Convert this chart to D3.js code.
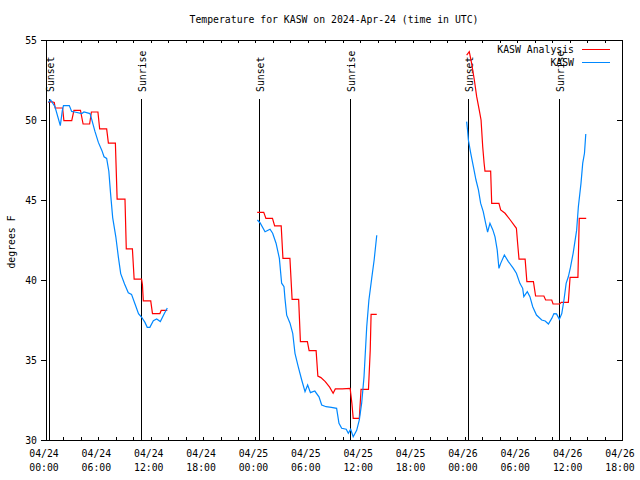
<!DOCTYPE html>
<html><head><meta charset="utf-8">
<script src="https://cdn.jsdelivr.net/npm/d3@7"></script>
<style>
body{margin:0;background:#fff}
svg text{font-family:"DejaVu Sans Mono","Liberation Mono",monospace;font-size:9.8px;fill:#000}
</style>
</head><body>
<svg id="chart" width="640" height="480"></svg>
<script>
// ---- data (hours since 2024-04-24 00:00 UTC, temperature in deg F) ----
const titleText = "Temperature for KASW on 2024-Apr-24 (time in UTC)";
const yLabel = "degrees F";
const seriesNames = ["KASW Analysis", "KASW"];
const yTicks = [30, 35, 40, 45, 50, 55];

const sunsetHours = [0.31, 24.44, 48.4];
const sunriseHours = [10.92, 34.87, 58.8];

// Observations (KASW)
const obsHours1 = [0.27,0.53,1.03,1.64,1.87,2.0,2.67,2.94,3.3,4.1,4.35,5.04,5.23,5.6,6.0,6.4,6.65,6.95,7.2,7.4,7.64,8.0,8.3,8.56,9.0,9.43,9.8,10.2,10.6,10.96,11.34,11.6,11.9,12.3,12.68,13.1,13.56,13.9];
const obsTemps1 = [51.1,51.25,50.83,49.65,50.58,50.9,50.9,50.54,50.5,50.4,50.5,50.4,50.06,49.3,48.6,48.1,47.7,47.6,46.8,45.4,43.9,42.7,41.4,40.4,39.75,39.2,39.1,38.5,37.9,37.67,37.35,37.04,37.04,37.46,37.56,37.4,37.9,38.25];
const obsHours2 = [24.22,24.52,25.1,25.67,25.97,26.36,26.74,27.0,27.27,27.38,27.58,27.96,28.27,28.53,28.9,29.3,29.68,29.98,30.3,30.8,31.28,31.59,32.1,32.7,33.3,33.57,33.88,34.4,34.64,34.91,35.2,35.6,35.9,36.17,36.44,36.75,37.0,37.32,37.6,37.9];
const obsTemps2 = [43.75,43.58,43.02,43.17,42.92,42.3,41.35,39.8,39.58,38.85,37.8,37.3,36.67,35.42,34.58,33.75,33.02,33.44,32.96,33.06,32.7,32.19,32.08,32.04,31.98,31.04,30.73,30.67,30.42,30.67,30.2,30.6,31.25,32.3,33.96,37.08,38.75,40.1,41.25,42.8];
const obsHours3 = [48.2,48.3,48.4,48.67,48.97,49.27,49.55,49.8,50.1,50.38,50.6,50.87,51.2,51.45,51.7,51.9,52.1,52.52,52.98,53.55,53.9,54.3,54.62,54.75,55.15,55.45,55.77,56.2,56.8,57.2,57.57,57.95,58.2,58.5,58.82,59.1,59.35,59.6,59.85,60.1,60.4,60.8,61.0,61.3,61.5,61.7,61.85];
const obsTemps3 = [49.9,49.38,48.75,47.92,47.08,46.25,45.63,44.8,44.27,43.54,43.0,43.54,43.13,42.7,41.88,40.73,41.04,41.56,41.15,40.73,40.42,39.79,39.48,38.96,39.27,38.96,38.33,37.81,37.5,37.44,37.25,37.6,37.9,37.88,37.54,37.9,38.75,39.79,40.2,40.8,41.67,43.1,44.58,46.04,47.3,47.92,49.12];

// Analysis (KASW Analysis)
const anaHours1 = [0.25,0.6,0.95,1.05,1.9,2.05,2.95,3.2,3.95,4.25,5.0,5.2,5.95,6.15,6.95,7.15,7.95,8.15,9.05,9.2,9.9,10.1,10.95,11.05,11.15,12.0,12.2,13.05,13.2,13.9];
const anaTemps1 = [51.1,51.15,51.1,50.75,50.75,49.96,49.96,50.6,50.6,49.75,49.75,50.5,50.5,49.44,49.44,48.56,48.56,45.06,45.06,41.94,41.94,40.06,40.06,39.7,38.7,38.7,37.9,37.9,38.1,38.1];
const anaHours2 = [24.2,24.95,25.2,25.95,26.2,26.95,27.15,27.95,28.2,28.95,29.15,29.95,30.15,30.95,31.15,31.5,32.0,32.5,32.9,33.15,33.95,34.85,35.05,35.2,35.9,36.1,36.95,37.15,37.25,37.9];
const anaTemps2 = [44.23,44.23,43.85,43.85,43.38,43.38,41.35,41.35,38.79,38.79,36.15,36.15,35.58,35.58,34.0,33.9,33.65,33.3,32.92,33.19,33.19,33.23,32.3,31.35,31.35,33.17,33.17,35.6,37.85,37.85];
const anaHours3 = [48.2,48.5,48.77,49.08,49.35,49.65,49.85,50.04,50.2,50.3,50.95,51.07,51.9,52.1,52.6,53.2,53.9,54.04,54.2,54.9,55.1,55.85,56.1,57.05,57.25,57.95,58.1,58.85,59.05,59.85,60.05,60.95,61.1,61.9];
const anaTemps3 = [54.06,54.27,53.54,52.5,51.46,50.6,50.0,48.33,47.3,46.8,46.8,44.79,44.79,44.38,44.17,43.75,43.23,42.3,41.3,41.3,39.9,39.9,39.0,39.0,38.75,38.75,38.5,38.5,38.6,38.6,40.17,40.17,43.85,43.85];

// ---- drawing ----
const svg = d3.select("#chart");
const t0 = Date.UTC(2024, 3, 24, 0, 0);
const toDate = h => new Date(t0 + h * 3600e3);
const L = 46, R = 622, T = 40, B = 440;
const x = d3.scaleUtc().domain([toDate(0), toDate(66)]).range([L, R]);
const y = d3.scaleLinear().domain([30, 55]).range([B, T]);
const red = "#ff0000", blue = "#0088ff";

// title
svg.append("text").attr("x", 334).attr("y", 23).attr("text-anchor", "middle").text(titleText);
// y label
svg.append("text").attr("transform", "translate(15,242) rotate(-90)").attr("text-anchor", "middle").text(yLabel);

const g = svg.append("g");
const crisp = sel => sel.attr("shape-rendering", "crispEdges");

// ticks every 2 h (bottom & top inward)
const tickDates = d3.utcHour.every(2).range(toDate(0), toDate(66.01));
const bottomAx = d3.axisBottom(x).tickValues(tickDates).tickSizeInner(-3).tickSizeOuter(0).tickFormat("");
const topAx = d3.axisTop(x).tickValues(tickDates).tickSizeInner(-3).tickSizeOuter(0).tickFormat("");
const gb = g.append("g").attr("transform", `translate(0,${B})`).call(bottomAx);
const gt = g.append("g").attr("transform", `translate(0,${T})`).call(topAx);
[gb, gt].forEach(a => { a.select(".domain").remove(); a.selectAll("line").attr("stroke", "#000").call(crisp); });

// y axis ticks left (out) and right (in)
const leftAx = d3.axisLeft(y).tickValues(yTicks).tickSizeInner(5).tickSizeOuter(0).tickPadding(4).tickFormat(d3.format("d"));
const rightAx = d3.axisRight(y).tickValues(yTicks).tickSizeInner(-5).tickSizeOuter(0).tickFormat("");
const gl = g.append("g").attr("transform", `translate(${L},0)`).call(leftAx);
const gr = g.append("g").attr("transform", `translate(${R},0)`).call(rightAx);
[gl, gr].forEach(a => { a.select(".domain").remove(); a.selectAll("line").attr("stroke", "#000").call(crisp); });
gl.selectAll("text").attr("font-size", null).attr("font-family", null).attr("fill", "#000").attr("x", -9).attr("dy", "0.35em");
gl.attr("font-size", null).attr("font-family", null);

// x tick labels every 6 h, two lines
const labelDates = d3.utcHour.every(6).range(toDate(0), toDate(66.01));
const fmtD = d3.utcFormat("%m/%d"), fmtT = d3.utcFormat("%H:%M");
const xl = svg.append("g").selectAll("g").data(labelDates).join("g")
  .attr("transform", d => `translate(${x(d) - 2},0)`);
xl.append("text").attr("y", 457).attr("text-anchor", "middle").text(d => fmtD(d));
xl.append("text").attr("y", 471).attr("text-anchor", "middle").text(d => fmtT(d));

// sunrise / sunset lines
const events = sunsetHours.map(h => ({h, name: "Sunset"})).concat(sunriseHours.map(h => ({h, name: "Sunrise"})));
const ev = svg.append("g").selectAll("g").data(events).join("g");
ev.append("line").attr("x1", d => Math.round(x(toDate(d.h))) + 0.5).attr("x2", d => Math.round(x(toDate(d.h))) + 0.5)
  .attr("y1", 99).attr("y2", B).attr("stroke", "#000").attr("stroke-width", 1);
ev.append("text").attr("transform", d => `translate(${x(toDate(d.h)) + 5},92) rotate(-90)`).text(d => d.name);

// data lines
const line = d3.line().x(d => x(toDate(d[0]))).y(d => y(d[1]));
const zip = (a, b) => a.map((v, i) => [v, b[i]]);
const anaSegs = [zip(anaHours1, anaTemps1), zip(anaHours2, anaTemps2), zip(anaHours3, anaTemps3)];
const obsSegs = [zip(obsHours1, obsTemps1), zip(obsHours2, obsTemps2), zip(obsHours3, obsTemps3)];
svg.append("g").selectAll("path").data(anaSegs).join("path").attr("d", line)
  .attr("fill", "none").attr("stroke", red).attr("stroke-width", 1.2);
svg.append("g").selectAll("path").data(obsSegs).join("path").attr("d", line)
  .attr("fill", "none").attr("stroke", blue).attr("stroke-width", 1.2);

// border
svg.append("rect").attr("x", L + 0.5).attr("y", T + 0.5).attr("width", R - L).attr("height", B - T)
  .attr("fill", "none").attr("stroke", "#000").attr("stroke-width", 1);

// legend
const legend = svg.append("g").selectAll("g").data([{name: seriesNames[0], c: red}, {name: seriesNames[1], c: blue}]).join("g")
  .attr("transform", (d, i) => `translate(0,${49 + i * 13})`);
legend.append("text").attr("x", 574).attr("y", 4).attr("text-anchor", "end").text(d => d.name);
legend.append("line").attr("x1", 582).attr("x2", 610).attr("y1", 0.5).attr("y2", 0.5).attr("stroke", d => d.c).attr("stroke-width", 1);
</script>
</body></html>
